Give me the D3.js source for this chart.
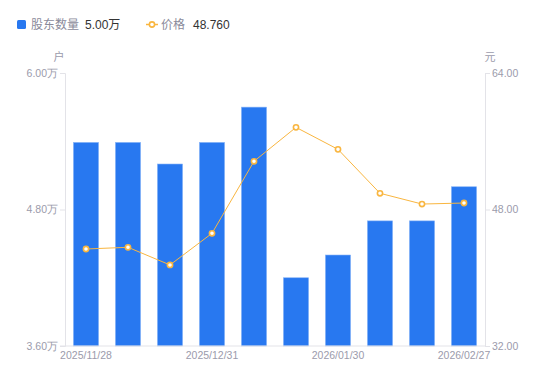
<!DOCTYPE html>
<html><head><meta charset="utf-8">
<script src="https://cdn.jsdelivr.net/npm/d3@7"></script>
<style>body{margin:0;background:#fff}svg{display:block;font-family:"Liberation Sans","Noto Sans CJK SC",sans-serif}</style>
</head><body><svg id="c" width="550" height="381"></svg>
<script>
const dates = ["2025/11/28","2025/12/10","2025/12/19","2025/12/31","2026/01/09","2026/01/20","2026/01/30","2026/02/10","2026/02/13","2026/02/27"];
const holders = [5.39,5.39,5.20,5.39,5.70,4.20,4.40,4.70,4.70,5.00];
const prices = [43.37,43.57,41.50,45.21,53.65,57.63,55.05,49.90,48.64,48.76];
const leftTicks = [3.6,4.8,6.0];
const rightTicks = [32,48,64];
const tickDates = ["2025/11/28","2025/12/31","2026/01/30","2026/02/27"];

const svg = d3.select("#c");
const m = {l:65, r:485, t:73, b:346};
const x = d3.scaleBand().domain(dates).range([m.l, m.r]).paddingInner(0.4).paddingOuter(0.2);
const yL = d3.scaleLinear().domain([3.6,6.0]).range([m.b, m.t]);
const yR = d3.scaleLinear().domain([32,64]).range([m.b, m.t]);
const axisColor = "#e3e3e8", txt = "#9b9bab";

// bars
svg.append("g").selectAll("rect").data(holders).join("rect")
  .attr("x",(d,i)=>x(dates[i])).attr("width",x.bandwidth())
  .attr("y",d=>yL(d)).attr("height",d=>m.b-yL(d))
  .attr("fill","#2878f0").attr("stroke","#8ab6f7").attr("stroke-width",0.6);

// axes
const gl = svg.append("g").attr("transform",`translate(${m.l},0)`)
  .call(d3.axisLeft(yL).tickValues(leftTicks).tickSize(5).tickPadding(2).tickFormat(d=>d3.format(".2f")(d)+"万"));
const gr = svg.append("g").attr("transform",`translate(${m.r},0)`)
  .call(d3.axisRight(yR).tickValues(rightTicks).tickSize(5).tickPadding(2).tickFormat(d3.format(".2f")));
const gx = svg.append("g").attr("transform",`translate(0,${m.b})`)
  .call(d3.axisBottom(x).tickValues(tickDates).tickSize(0).tickPadding(6));
[gl,gr,gx].forEach(g=>{
  g.select(".domain").attr("stroke",axisColor);
  g.selectAll(".tick line").attr("stroke",axisColor);
  g.selectAll(".tick text").attr("fill",txt).attr("font-size",10.5);
});
gx.select(".domain").attr("d",`M${m.l-5},0H${m.r}`);

// line
const line = d3.line().x((d,i)=>x(dates[i])+x.bandwidth()/2).y(d=>yR(d));
svg.append("path").datum(prices).attr("d",line).attr("fill","none").attr("stroke","#f9b640").attr("stroke-width",1);
svg.append("g").selectAll("circle").data(prices).join("circle")
  .attr("cx",(d,i)=>x(dates[i])+x.bandwidth()/2).attr("cy",d=>yR(d)).attr("r",2.6)
  .attr("fill","#fff").attr("stroke","#f9b640").attr("stroke-width",1.6);

// unit labels
svg.append("text").attr("x",59).attr("y",61).attr("text-anchor","middle").attr("fill",txt).attr("font-size",11).text("户");
svg.append("text").attr("x",490).attr("y",61).attr("text-anchor","middle").attr("fill",txt).attr("font-size",11).text("元");

// legend
const lg = svg.append("g");
lg.append("rect").attr("x",17).attr("y",20).attr("width",9).attr("height",9).attr("rx",1.5).attr("fill","#2878f0");
lg.append("text").attr("x",31).attr("y",29).attr("font-size",12).attr("fill","#8a8a9a").text("股东数量");
lg.append("text").attr("x",85).attr("y",29).attr("font-size",12).attr("fill","#333").text(d3.format(".2f")(holders[holders.length-1])+"万");
lg.append("line").attr("x1",146).attr("x2",158).attr("y1",24.5).attr("y2",24.5).attr("stroke","#f9b640").attr("stroke-width",1.5);
lg.append("circle").attr("cx",152).attr("cy",24.5).attr("r",2.6).attr("fill","#fff").attr("stroke","#f9b640").attr("stroke-width",1.6);
lg.append("text").attr("x",161).attr("y",29).attr("font-size",12).attr("fill","#8a8a9a").text("价格");
lg.append("text").attr("x",193).attr("y",29).attr("font-size",12).attr("fill","#333").text(d3.format(".3f")(prices[prices.length-1]));
</script></body></html>
